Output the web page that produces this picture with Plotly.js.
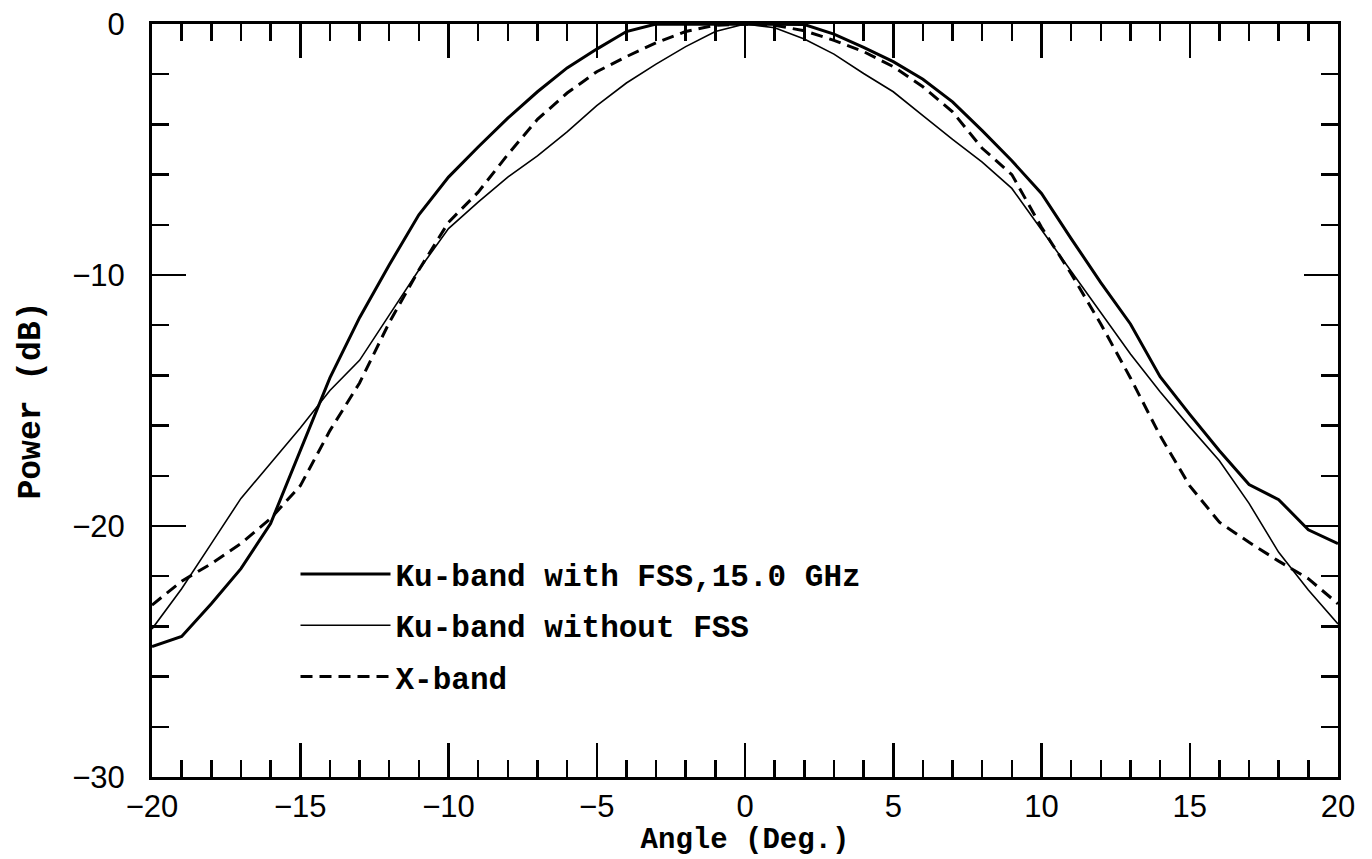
<!DOCTYPE html>
<html>
<head>
<meta charset="utf-8">
<script src="https://cdn.plot.ly/plotly-3.0.1.min.js"></script>
<style>html,body{margin:0;padding:0;background:#fff;}#chart{width:1372px;height:859px;}</style>
</head>
<body>
<div id="chart"></div>
<script>
// Angle (deg)
const angles = [-20,-19,-18,-17,-16,-15,-14,-13,-12,-11,-10,-9,-8,-7,-6,-5,-4,-3,-2,-1,0,1,2,3,4,5,6,7,8,9,10,11,12,13,14,15,16,17,18,19,20];
// Ku-band with FSS, 15.0 GHz (dB)
const kuWithFSS = [-24.8,-24.4,-23.1,-21.7,-19.9,-17.0,-14.1,-11.7,-9.6,-7.6,-6.1,-4.9,-3.75,-2.7,-1.75,-1.0,-0.3,0,0,0,0,0,-0.02,-0.4,-0.93,-1.5,-2.2,-3.1,-4.25,-5.45,-6.75,-8.55,-10.3,-11.95,-14.05,-15.55,-17.0,-18.35,-18.95,-20.15,-20.7];
// Ku-band without FSS (dB)
const kuWithoutFSS = [-24.1,-22.5,-20.7,-18.9,-17.5,-16.1,-14.6,-13.4,-11.6,-9.8,-8.15,-7.1,-6.1,-5.25,-4.3,-3.25,-2.35,-1.6,-0.9,-0.3,0,-0.15,-0.6,-1.2,-1.97,-2.7,-3.65,-4.6,-5.5,-6.55,-8.2,-9.85,-11.55,-13.15,-14.65,-16.05,-17.4,-19.1,-21.05,-22.55,-23.9];
// X-band (dB)
const xBand = [-23.15,-22.2,-21.5,-20.7,-19.7,-18.4,-16.2,-14.3,-11.9,-9.8,-7.9,-6.7,-5.2,-3.8,-2.75,-1.9,-1.3,-0.75,-0.3,-0.05,0,-0.05,-0.27,-0.65,-1.1,-1.7,-2.5,-3.5,-4.95,-6.0,-8.1,-9.95,-11.95,-14.1,-16.4,-18.4,-19.85,-20.65,-21.4,-22.1,-23.1];

const names = ["Ku-band with FSS,15.0 GHz", "Ku-band without FSS", "X-band"];
const xTicks = [-20,-15,-10,-5,0,5,10,15,20];
const yTicks = [0,-10,-20,-30];

const textFamily = "Liberation Mono, Courier New, monospace";
const tickFont = {family: "Liberation Sans, Arial, sans-serif", size: 31, color: "#000"};

const traces = [
  {x: angles, y: kuWithFSS, name: names[0], mode: "lines", legendgroup: "a",
   line: {color: "#000", width: 3}},
  {x: angles, y: kuWithoutFSS, name: names[1], mode: "lines", legendgroup: "b",
   line: {color: "#000", width: 1.6}},
  {x: angles, y: xBand, name: names[2], mode: "lines", legendgroup: "c",
   line: {color: "#000", width: 3, dash: "12px,7px"}}
];

const layout = {
  width: 1372, height: 859,
  margin: {l: 152, r: 34, t: 24, b: 82},
  paper_bgcolor: "#fff", plot_bgcolor: "#fff",
  showlegend: true,
  legend: {
    x: 0.121, y: 0.305, xanchor: "left", yanchor: "top",
    bgcolor: "rgba(0,0,0,0)", borderwidth: 0,
    font: {family: textFamily, size: 31, color: "#000", weight: "bold"},
    itemwidth: 90, tracegroupgap: 8,
    traceorder: "grouped"
  },
  xaxis: {
    range: [-20, 20], tickvals: xTicks, ticks: "inside", ticklen: 34, tickwidth: 2.5,
    tickcolor: "#000", showline: true, linewidth: 3, linecolor: "#000", mirror: "ticks",
    showgrid: false, zeroline: false, tickfont: tickFont, ticklabelstandoff: 0,
    minor: {dtick: 1, ticks: "inside", ticklen: 17, tickwidth: 2.5, tickcolor: "#000", showgrid: false},
    title: {text: "Angle (Deg.)", font: {family: textFamily, size: 29, color: "#000", weight: "bold"}, standoff: 0}
  },
  yaxis: {
    range: [-30, 0], tickvals: yTicks, ticks: "inside", ticklen: 34, tickwidth: 2.5,
    tickcolor: "#000", showline: true, linewidth: 3, linecolor: "#000", mirror: "ticks",
    showgrid: false, zeroline: false, tickfont: tickFont, ticklabelstandoff: 18,
    minor: {dtick: 2, ticks: "inside", ticklen: 17, tickwidth: 2.5, tickcolor: "#000", showgrid: false},
    title: {text: "Power (dB)", font: {family: textFamily, size: 33, color: "#000", weight: "bold"}, standoff: 22}
  }
};

Plotly.newPlot("chart", traces, layout, {displayModeBar: false, staticPlot: true});
</script>
</body>
</html>
